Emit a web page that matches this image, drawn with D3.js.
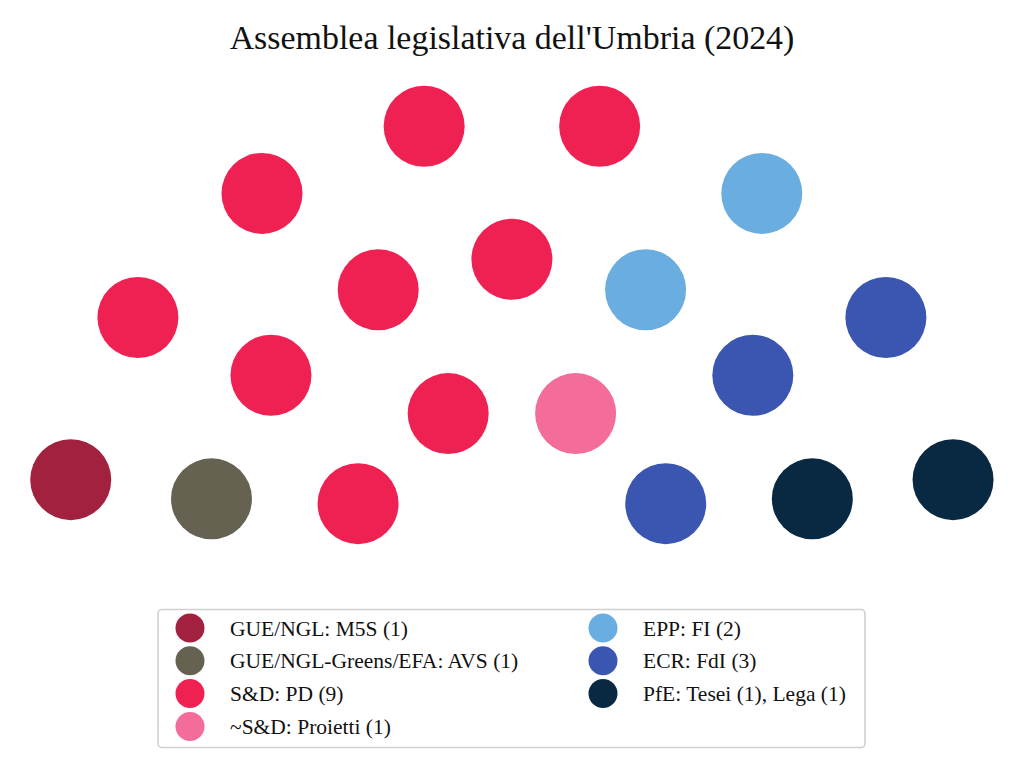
<!DOCTYPE html>
<html>
<head>
<meta charset="utf-8">
<script src="https://cdn.jsdelivr.net/npm/d3@7"></script>
<style>
html,body{margin:0;padding:0;background:#fff;}
svg{display:block;}
</style>
</head>
<body>
<svg id="chart" width="1024" height="768"></svg>
<script>
// ---- data ----
const title = "Assemblea legislativa dell'Umbria (2024)";
const partyLabels = [
  "GUE/NGL: M5S (1)",
  "GUE/NGL-Greens/EFA: AVS (1)",
  "S&D: PD (9)",
  "~S&D: Proietti (1)",
  "EPP: FI (2)",
  "ECR: FdI (3)",
  "PfE: Tesei (1), Lega (1)"
];
const partySeats = [1, 1, 9, 1, 2, 3, 2];
const partyColors = ["#A2213F", "#666252", "#EF2153", "#F46C99", "#6AADE0", "#3A56B0", "#082941"];
const rowSeats = [4, 7, 8]; // seats per row, inner -> outer

// ---- layout ----
const svg = d3.select("#chart");
const W = 1024;
const cx = 511.9, cy = 567.4;
const rowIndex = d3.range(rowSeats.length);
const rScale = d3.scaleLinear().domain([0, rowSeats.length - 1]).range([166.5, 449.8]);
const seatR = 40.5;

let seats = [];
rowIndex.forEach(ri => {
  const n = rowSeats[ri];
  const aScale = d3.scaleLinear().domain([0, n]).range([Math.PI, 0]);
  d3.range(n).forEach(j => {
    seats.push({row: ri, angle: aScale(j + 0.5)});
  });
});
seats.sort((a, b) => d3.descending(a.angle, b.angle) || d3.ascending(a.row, b.row));
let idx = 0;
partySeats.forEach((n, p) => {
  for (let k = 0; k < n; k++) seats[idx++].party = p;
});

svg.append("g").selectAll("circle")
  .data(seats)
  .join("circle")
  .attr("cx", d => cx + rScale(d.row) * Math.cos(d.angle))
  .attr("cy", d => cy - rScale(d.row) * Math.sin(d.angle))
  .attr("r", seatR)
  .attr("fill", d => partyColors[d.party]);

// ---- title ----
const fontFam = "'Liberation Serif', serif";
const t = svg.append("text")
  .attr("x", W / 2).attr("y", 49)
  .attr("text-anchor", "middle")
  .attr("font-family", fontFam)
  .attr("font-size", 24)
  .attr("fill", "#111")
  .text(title);
const tw = t.node().getComputedTextLength();
t.attr("font-size", 24 * 565 / tw);

// ---- legend ----
const lg = svg.append("g");
lg.append("rect")
  .attr("x", 158).attr("y", 609.5)
  .attr("width", 707).attr("height", 138)
  .attr("rx", 4)
  .attr("fill", "#fff")
  .attr("stroke", "#d0d0d0")
  .attr("stroke-width", 1.6);

const perCol = 4;
const colX = [190, 603];
const rowY = d3.scaleLinear().domain([0, 1]).range([628, 660.8]);
const items = lg.selectAll("g.item")
  .data(partyLabels.map((l, i) => ({label: l, color: partyColors[i], i})))
  .join("g")
  .attr("class", "item")
  .attr("transform", d => `translate(${colX[Math.floor(d.i / perCol)]},${rowY(d.i % perCol)})`);
items.append("circle").attr("r", 14.5).attr("fill", d => d.color);
const labels = items.append("text")
  .attr("x", 40).attr("y", 0)
  .attr("dy", "0.35em")
  .attr("font-family", fontFam)
  .attr("font-size", 18)
  .attr("fill", "#111")
  .text(d => d.label);
const lw = labels.filter(d => d.i === 0).node().getComputedTextLength();
labels.attr("font-size", 18 * 178 / lw);
</script>
</body>
</html>
